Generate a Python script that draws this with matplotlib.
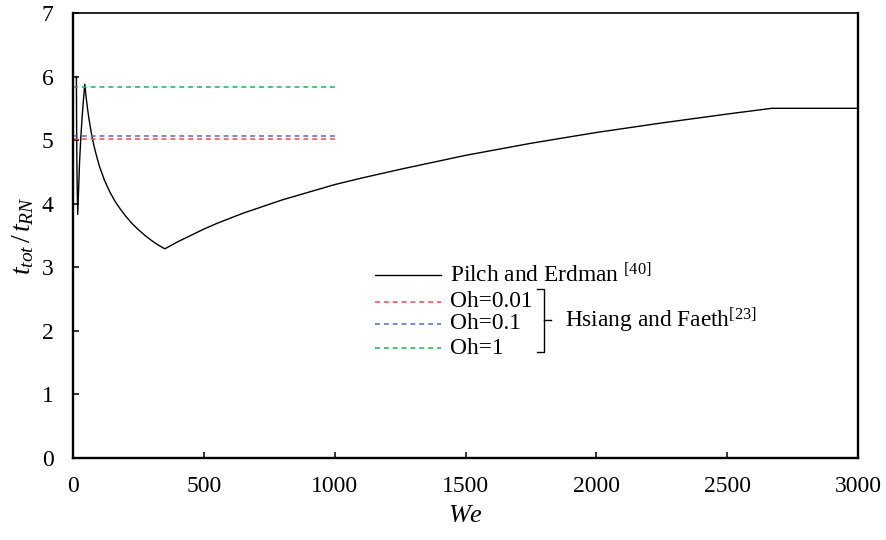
import matplotlib.pyplot as plt
from matplotlib.lines import Line2D

plt.rcParams['font.family'] = ['Liberation Serif', 'DejaVu Serif']
plt.rcParams['mathtext.fontset'] = 'custom'
plt.rcParams['mathtext.rm'] = 'Liberation Serif'
plt.rcParams['mathtext.it'] = 'Liberation Serif:italic'

# Pilch and Erdman total breakup time
we_pe = [13, 14, 15, 16, 18, 25, 30, 35, 40, 45, 50, 55, 60, 70, 80, 90, 100,
         120, 140, 160, 180, 200, 225, 250, 275, 300, 325, 351, 400, 450, 500,
         550, 600, 650, 700, 800, 900, 1000, 1100, 1250, 1500, 1750, 2000,
         2250, 2500, 2670, 3000]
t_pe = [6.00, 5.05, 4.56, 4.24, 3.83, 4.65, 5.05, 5.37, 5.64, 5.88, 5.68, 5.51,
        5.36, 5.11, 4.91, 4.75, 4.60, 4.37, 4.19, 4.04, 3.92, 3.81, 3.69, 3.59,
        3.50, 3.42, 3.35, 3.29, 3.40, 3.50, 3.60, 3.69, 3.77, 3.85, 3.92, 4.06,
        4.18, 4.30, 4.40, 4.54, 4.76, 4.95, 5.12, 5.27, 5.41, 5.50, 5.50]

# Hsiang and Faeth, constant over We
we_hf = [0, 1000]
oh_labels = ['Oh=0.01', 'Oh=0.1', 'Oh=1']
t_hf = [5.01, 5.07, 5.83]
oh_colors = ['#ff4150', '#4a6cc4', '#1db34f']

fig = plt.figure(figsize=(8.86, 5.40), dpi=100)
ax = fig.add_axes([0.0824, 0.152, 0.8862, 0.824])

ax.plot(we_pe, t_pe, color='black', lw=1.0)
for t, c in zip(t_hf, oh_colors):
    ax.plot(we_hf, [t, t], color=c, lw=1.1, dashes=(3.2, 2.6))

ax.set_xlim(0, 3000)
ax.set_ylim(0, 7)
ax.set_xticks(range(0, 3001, 500))
ax.set_yticks(range(0, 8))
ax.tick_params(direction='in', length=4, width=1.1, labelsize=17)
ax.tick_params(axis='x', pad=13)
ax.tick_params(axis='y', pad=14)
for side in ['left', 'bottom', 'right']:
    ax.spines[side].set_linewidth(1.7)
ax.spines['top'].set_linewidth(1.2)

ax.set_xlabel('$\\mathit{We}$', fontsize=19, labelpad=6)
ax.set_ylabel('$t_{tot}\\,/\\,t_{RN}$', fontsize=20, labelpad=4)

# hand-made legend
tr = ax.transAxes
x0, x1, xt = 0.385, 0.469, 0.480
rows = [0.411, 0.351, 0.301, 0.247]
ax.add_line(Line2D([x0, x1], [rows[0]] * 2, color='black', lw=1.0, transform=tr))
ax.text(xt, rows[0], 'Pilch and Erdman $^{[40]}$', transform=tr,
        fontsize=16.8, va='center', ha='left')
for y, lab, c in zip(rows[1:], oh_labels, oh_colors):
    ax.add_line(Line2D([x0, x1], [y, y], color=c, lw=1.1, dashes=(3.2, 2.6),
                       transform=tr))
    ax.text(xt, y, lab, transform=tr, fontsize=16.8, va='center', ha='left')

# bracket grouping the Oh entries
bx, arm, tip = 0.600, 0.009, 0.009
btop, bbot, bmid = 0.380, 0.238, 0.310
ax.add_line(Line2D([bx - arm, bx, bx, bx - arm], [btop, btop, bbot, bbot],
                   color='black', lw=1.0, transform=tr))
ax.add_line(Line2D([bx, bx + tip], [bmid, bmid], color='black', lw=1.0,
                   transform=tr))
ax.text(0.627, bmid, 'Hsiang and Faeth$^{[23]}$', transform=tr,
        fontsize=16.8, va='center', ha='left')

fig.savefig('out.png', dpi=100)
